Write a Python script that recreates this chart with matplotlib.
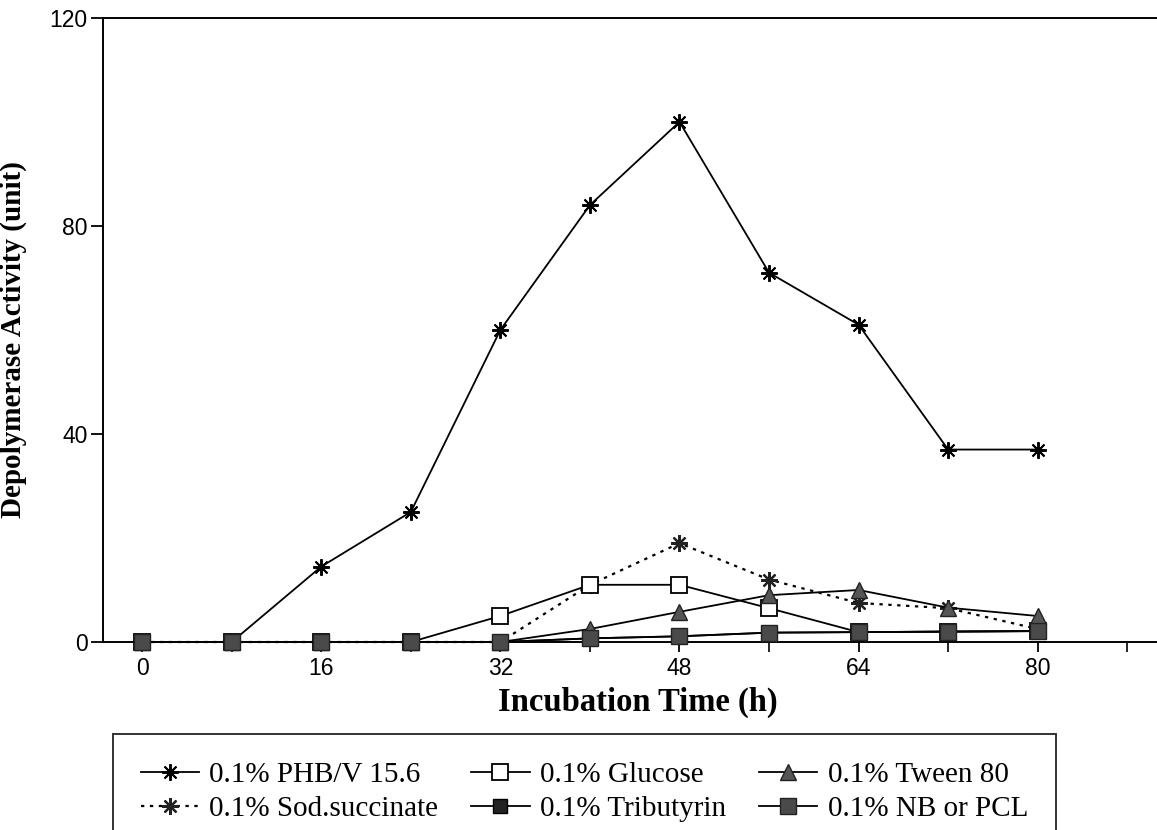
import numpy as np
import matplotlib
matplotlib.use("Agg")
import matplotlib.pyplot as plt
from matplotlib.ticker import MultipleLocator

# %% data

hours = [0, 8, 16, 24, 32, 40, 48, 56, 64, 72, 80]

phbv = [0, 0, 14.5, 25, 60, 84, 100, 71, 61, 37, 37]
sod_succinate = [0, 0, 0, 0, 0, 11, 19, 12, 7.5, 6.5, 2.5]
glucose = [0, 0, 0, 0, 5, 11, 11, 6.5, 1.9, 2, 2.1]
tributyrin = [0, 0, 0, 0, 0, 0.7, 1.1, 1.8, 1.9, 2, 2.1]
tween80 = [0, 0, 0, 0, 0, 2.5, 5.8, 9, 10, 6.6, 5]
nb_pcl = [0, 0, 0, 0, 0, 0.7, 1.1, 1.8, 1.9, 2, 2.1]

labels = ["0.1% PHB/V 15.6", "0.1% Sod.succinate", "0.1% Glucose",
          "0.1% Tributyrin", "0.1% Tween 80", "0.1% NB or PCL"]

# %% plot

tick_fontsize = 16.5
label_fontsize = 21
xlabel_fontsize = 23.5
legend_fontsize = 21

fig = plt.figure(figsize=(11.57, 8.3), dpi=100)
# axes run past the right edge of the figure, so the right spine is cut off
ax = fig.add_axes([0.089, 0.2265, 0.924, 0.752])

lw = 1.3
asterisk = (8, 2, 0)

ax.plot(hours, phbv, color="black", linestyle="-", linewidth=lw, marker=asterisk,
        markersize=12, markeredgewidth=1.4, clip_on=False, label=labels[0], zorder=3)
ax.plot(hours, sod_succinate, color="black", linestyle=(0, (1.5, 2.5)), linewidth=lw + 0.3,
        marker=asterisk, markersize=12, markeredgewidth=1.6, markeredgecolor="#222222",
        clip_on=False, label=labels[1], zorder=3)
ax.plot(hours, glucose, color="black", linestyle="-", linewidth=lw, marker="s",
        markersize=11, markerfacecolor="white", markeredgecolor="black", markeredgewidth=1.3,
        clip_on=False, label=labels[2], zorder=3)
ax.plot(hours, tributyrin, color="black", linestyle="-", linewidth=lw, marker="s",
        markersize=10, markerfacecolor="#222222", markeredgecolor="black",
        clip_on=False, label=labels[3], zorder=3)
ax.plot(hours, tween80, color="black", linestyle="-", linewidth=lw, marker="^",
        markersize=12, markerfacecolor="#555555", markeredgecolor="#222222",
        clip_on=False, label=labels[4], zorder=3)
ax.plot(hours, nb_pcl, color="black", linestyle="-", linewidth=lw, marker="s",
        markersize=11, markerfacecolor="#4a4a4a", markeredgecolor="#222222",
        clip_on=False, label=labels[5], zorder=3)

ax.set_xlim(-3.5, 92)
ax.set_ylim(0, 120)
ax.set_xticks([0, 16, 32, 48, 64, 80])
ax.xaxis.set_minor_locator(MultipleLocator(8))
ax.set_yticks([0, 40, 80, 120])

for side in ["left", "top", "bottom", "right"]:
    ax.spines[side].set_linewidth(1.4)

ax.tick_params(axis="both", direction="out", length=9, width=1.3, labelsize=tick_fontsize, pad=2)
ax.tick_params(axis="x", which="minor", direction="out", length=7, width=1.2)
ax.tick_params(axis="x", which="major", length=7, pad=4)
for t in ax.get_xticklabels() + ax.get_yticklabels():
    t.set_fontfamily("Liberation Sans")

ax.set_xlabel("Incubation Time (h)", fontsize=xlabel_fontsize, fontweight="bold",
              fontfamily="Liberation Serif")
ax.set_ylabel("Depolymerase Activity (unit)", fontsize=label_fontsize, fontweight="bold",
              fontfamily="Liberation Serif")
ax.xaxis.set_label_coords(0.50, -0.071)
ax.yaxis.set_label_coords(-0.071, 0.485)

leg = fig.legend(loc="upper left", bbox_to_anchor=(0.085, 0.133, 0.84, 0.0), mode="expand",
                 ncol=3, frameon=True, fancybox=False,
                 edgecolor="black", handlelength=2.0, handletextpad=0.35,
                 columnspacing=0.3, labelspacing=0.25, borderpad=0.95,
                 prop={"family": "Liberation Serif", "size": legend_fontsize})
leg.get_frame().set_linewidth(1.4)

plt.savefig("out.png", dpi=100)
